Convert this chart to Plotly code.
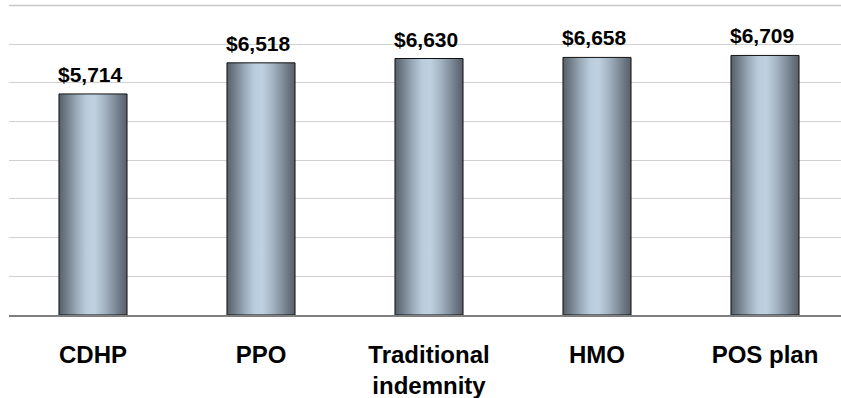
import plotly.graph_objects as go

# Average annual premium by plan type
plans = ["CDHP", "PPO", "Traditional<br>indemnity", "HMO", "POS plan"]
premiums = [5714, 6518, 6630, 6658, 6709]
y_ticks = [0, 1000, 2000, 3000, 4000, 5000, 6000, 7000, 8000]

# cylinder-style shading across each bar
bar_shade = [
    [0.00, "#56606a"],
    [0.10, "#6f7b87"],
    [0.25, "#98a8b6"],
    [0.40, "#bacddc"],
    [0.52, "#bfd1e0"],
    [0.66, "#a6b6c4"],
    [0.80, "#8593a0"],
    [0.92, "#67727d"],
    [1.00, "#56606a"],
]

font_family = "Liberation Sans, Arial, sans-serif"
grid_color = "#d0d0d0"
half_w = 0.2025
x_range = [-0.5, -0.5 + 832 / 168]
fig = go.Figure()

# the topmost grid line sits at the plot edge, so draw it as a plain line trace
fig.add_trace(go.Scatter(
    x=x_range, y=[y_ticks[-1], y_ticks[-1]],
    mode="lines", line=dict(color="#c8c8c8", width=1.3),
    hoverinfo="skip", showlegend=False, cliponaxis=False,
))

for i, v in enumerate(premiums):
    fig.add_trace(go.Scatter(
        x=[i - half_w, i + half_w, i + half_w, i - half_w, i - half_w],
        y=[0, 0, v, v, 0],
        mode="lines",
        fill="toself",
        fillgradient=dict(type="horizontal", colorscale=bar_shade),
        line=dict(color="#111111", width=1),
        hoverinfo="skip",
        showlegend=False,
    ))

for i, v in enumerate(premiums):
    fig.add_annotation(
        x=i, y=v, text=f"${v:,}",
        showarrow=False, yanchor="bottom", yshift=6, xshift=-3,
        font=dict(family=font_family, size=21, color="#000000", weight="bold"),
    )

fig.update_layout(
    width=841, height=398,
    margin=dict(l=9, r=0, t=0, b=83),
    paper_bgcolor="white", plot_bgcolor="white",
    xaxis=dict(
        range=x_range,
        tickvals=list(range(len(plans))),
        ticktext=plans,
        showgrid=False, zeroline=False,
        showline=True, linecolor="#7f7f7f", linewidth=1.5,
        ticks="", ticklabelstandoff=17,
        tickfont=dict(family=font_family, size=24, color="#000000", weight="bold"),
    ),
    yaxis=dict(
        range=[0, 8142],
        tickvals=y_ticks,
        showticklabels=False,
        showgrid=True, gridcolor=grid_color, gridwidth=1,
        zeroline=False, showline=False,
    ),
)

fig.write_html("out.html")
